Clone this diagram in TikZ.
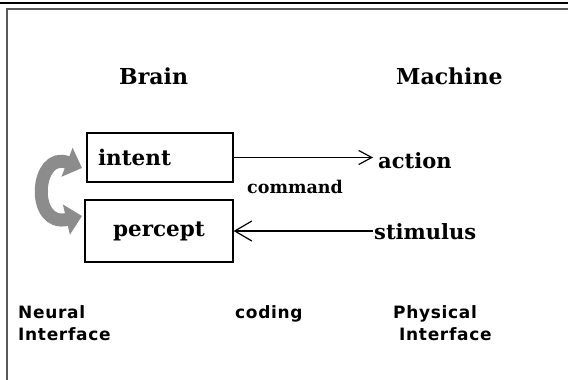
\documentclass[tikz,border=0pt]{standalone}
\usepackage{fontspec}
\setmainfont{DejaVu Serif}
\newfontfamily\pixfont[LetterSpace=4]{DejaVu Sans}
\usetikzlibrary{arrows.meta}
\begin{document}
\begin{tikzpicture}[x=1pt,y=-1pt,
  title/.style={font=\fontsize{22}{26}\selectfont\bfseries, inner sep=0pt, anchor=base west},
  lbl/.style={font=\fontsize{21}{24}\selectfont\bfseries, inner sep=0pt, anchor=base west},
  small/.style={font=\fontsize{17.5}{20}\selectfont\bfseries, inner sep=0pt, anchor=base west},
  box/.style={draw, line width=1.3pt, font=\fontsize{21.5}{24}\selectfont\bfseries},
  pix/.style={font=\pixfont\fontsize{17}{22}\selectfont\bfseries, inner sep=0pt, anchor=base west, align=left},
  link/.style={line width=1.2pt},
  cyc/.style={line width=13pt, draw=black!45,
    {Triangle[length=16pt,width=30pt]}-{Triangle[length=16pt,width=30pt]}}
]
\useasboundingbox (0,0) rectangle (568,380);
\fill[white] (0,0) rectangle (568,380);
% frame
\draw[line width=1.5pt] (0,3) -- (568,3);
\draw[line width=2pt, black!65] (7,380) -- (7,9) -- (568,9);
% titles
\node[title] (brain) at (119,84) {Brain};
\node[title] (machine) at (396,84) {Machine};
% boxes
\node[box, text width=124pt, inner xsep=11pt, align=left, minimum height=49pt] (intent) at (160,157.5) {intent};
\node[box, minimum width=148pt, minimum height=62pt] (percept) at (159,231) {percept};
% outer labels
\node[lbl] (action) at (378,168) {action};
\node[lbl] (stimulus) at (374,239) {stimulus};
\node[small] (command) at (247,193) {command};
% connectors
\draw[link, -{Straight Barb[length=13pt,width=14pt]}, shorten >=5pt] (intent.east) -- (intent.east -| action.west);
\draw[link, -{Straight Barb[length=17pt,width=20pt]}, shorten <=1pt] (percept.east -| stimulus.west) -- (percept.east);
% cycle arrow
\coordinate (ctop) at (82,168);
\coordinate (cbot) at (82,216);
\draw[cyc] (ctop) .. controls (35,150) and (30,228) .. (cbot);
% bottom labels
\node[pix] (neural) at (18,340) {Neural\\Interface};
\node[pix] (coding) at (235,318) {coding};
\node[pix] (physical) at (393,340) {Physical\\\hspace*{6pt}Interface};
\end{tikzpicture}
\end{document}
